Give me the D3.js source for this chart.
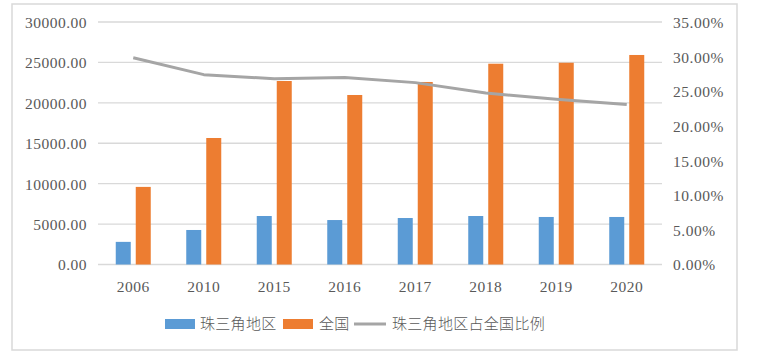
<!DOCTYPE html>
<html><head><meta charset="utf-8">
<script src="https://cdn.jsdelivr.net/npm/d3@7"></script>
<style>
body{margin:0;background:#fff;}
svg{display:block;}
.tick text{font-family:"Liberation Serif","Times New Roman",serif;font-size:15.5px;fill:#595959;}
</style></head>
<body>
<svg id="c" width="762" height="355"></svg>
<script>
const years = ["2006","2010","2015","2016","2017","2018","2019","2020"];
const prd = [2800, 4270, 6000, 5500, 5750, 6000, 5880, 5880];
const national = [9600, 15650, 22700, 20970, 22580, 24840, 24960, 25920];
const share = [29.85, 27.4, 26.8, 27.0, 26.25, 24.75, 23.85, 23.1];
const leftTicks = [0,5000,10000,15000,20000,25000,30000];
const rightTicks = [0,5,10,15,20,25,30,35];
const seriesNames = ["珠三角地区","全国","珠三角地区占全国比例"];
const colors = ["#5b9bd5","#ed7d31","#a5a5a5"];

const svg = d3.select("#c");
const L = 98, R = 662, T = 22, B = 264.5;

svg.append("rect").attr("x",12).attr("y",4).attr("width",725).attr("height",346)
  .attr("fill","none").attr("stroke","#d9d9d9").attr("stroke-width",1.5);

const x = d3.scaleBand().domain(years).range([L,R]).paddingInner(0).paddingOuter(0);
const y = d3.scaleLinear().domain([0,30000]).range([B,T]);
const y2 = d3.scaleLinear().domain([0,35]).range([B,T]);

// grid
svg.append("g").selectAll("line").data(leftTicks).join("line")
  .attr("x1",L).attr("x2",R).attr("y1",d=>y(d)).attr("y2",d=>y(d))
  .attr("stroke","#d9d9d9").attr("stroke-width",1.3);

// left axis
const ga = svg.append("g").attr("transform",`translate(${L-11},0)`)
  .call(d3.axisLeft(y).tickValues(leftTicks).tickSize(0).tickPadding(0).tickFormat(d=>d3.format(".2f")(d)));
ga.select(".domain").remove();
ga.selectAll("text").attr("dy","0.35em").style("letter-spacing","0.5px");

// right axis
const gr = svg.append("g").attr("transform",`translate(${R+11},0)`)
  .call(d3.axisRight(y2).tickValues(rightTicks).tickSize(0).tickPadding(0).tickFormat(d=>d3.format(".2f")(d)+"%"));
gr.select(".domain").remove();
gr.selectAll("text").attr("dy","0.35em").style("letter-spacing","0.5px");

// x axis
const gx = svg.append("g").attr("transform",`translate(0,${B})`)
  .call(d3.axisBottom(x).tickSize(0).tickPadding(22));
gx.select(".domain").remove();
gx.selectAll("text").attr("dy","0.35em").style("letter-spacing","0.5px");

const bw = 15, gap = 5;
const cx = d => x(d) + x.bandwidth()/2;
svg.append("g").selectAll("rect").data(years).join("rect")
  .attr("x",(d)=>cx(d)-gap/2-bw).attr("width",bw)
  .attr("y",(d,i)=>y(prd[i])).attr("height",(d,i)=>B-y(prd[i]))
  .attr("fill",colors[0]);
svg.append("g").selectAll("rect").data(years).join("rect")
  .attr("x",(d)=>cx(d)+gap/2).attr("width",bw)
  .attr("y",(d,i)=>y(national[i])).attr("height",(d,i)=>B-y(national[i]))
  .attr("fill",colors[1]);

const line = d3.line().x((d,i)=>cx(years[i])).y(d=>y2(d));
svg.append("path").datum(share).attr("d",line).attr("fill","none")
  .attr("stroke",colors[2]).attr("stroke-width",3).attr("stroke-linejoin","round");

// legend
const lg = svg.append("g").style("font-family",'"Noto Sans CJK SC","Noto Sans",sans-serif')
  .style("font-size","15px").style("font-weight","300").style("fill","#595959");
const ly = 324;
lg.append("rect").attr("x",165).attr("y",ly-5).attr("width",30).attr("height",10).attr("fill",colors[0]);
lg.append("text").attr("x",200).attr("y",ly).attr("dy","0.35em").style("letter-spacing","0.3px").text(seriesNames[0]);
lg.append("rect").attr("x",283).attr("y",ly-5).attr("width",30).attr("height",10).attr("fill",colors[1]);
lg.append("text").attr("x",319).attr("y",ly).attr("dy","0.35em").style("letter-spacing","0.3px").text(seriesNames[1]);
lg.append("line").attr("x1",354).attr("x2",386).attr("y1",ly).attr("y2",ly).attr("stroke",colors[2]).attr("stroke-width",3);
lg.append("text").attr("x",392).attr("y",ly).attr("dy","0.35em").style("letter-spacing","0.3px").text(seriesNames[2]);
</script>
</body></html>
